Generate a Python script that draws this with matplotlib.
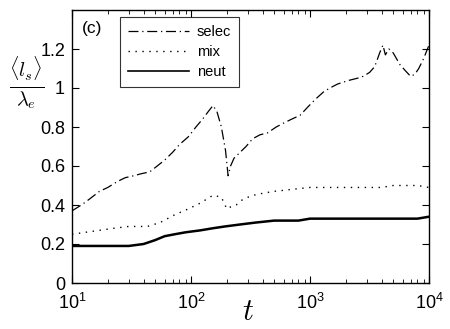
import matplotlib
matplotlib.use("Agg")
import matplotlib.pyplot as plt
from matplotlib.ticker import LogLocator, NullFormatter

plt.rcParams['font.family'] = ['Liberation Sans', 'DejaVu Sans']
plt.rcParams['mathtext.fontset'] = 'custom'
plt.rcParams['mathtext.rm'] = 'Liberation Sans'
plt.rcParams['mathtext.it'] = 'Liberation Sans:italic'

# --- data ---
t_selec = [10, 12, 14, 17, 20, 24, 28, 33, 38, 45, 52, 60, 70, 80, 95, 110, 125, 140, 153,
           165, 180, 195, 205, 215, 230, 258, 290, 330, 380, 440, 520, 600, 700, 825, 950,
           1100, 1300, 1470, 1700, 1900, 2150, 2500, 2800, 3170, 3500, 3850, 4100, 4300,
           4600, 5000, 5700, 6300, 7000, 7600, 8200, 9000, 10000]
v_selec = [0.37, 0.40, 0.43, 0.47, 0.49, 0.52, 0.54, 0.55, 0.56, 0.57, 0.60, 0.63, 0.67,
           0.71, 0.75, 0.80, 0.84, 0.88, 0.91, 0.88, 0.80, 0.68, 0.55, 0.60, 0.64, 0.67,
           0.70, 0.74, 0.76, 0.77, 0.80, 0.82, 0.84, 0.86, 0.90, 0.94, 0.98, 1.00, 1.02,
           1.03, 1.04, 1.05, 1.06, 1.08, 1.11, 1.18, 1.22, 1.17, 1.20, 1.18, 1.12, 1.09,
           1.06, 1.07, 1.10, 1.15, 1.22]

t_mix = [10, 13, 17, 22, 30, 43, 55, 73, 95, 120, 153, 180, 200, 215, 240, 258, 278, 302,
         335, 400, 500, 700, 1000, 1500, 2000, 3000, 4000, 5000, 6000, 8000, 10000]
v_mix = [0.25, 0.26, 0.27, 0.28, 0.29, 0.29, 0.31, 0.35, 0.38, 0.41, 0.45, 0.44, 0.38,
         0.39, 0.40, 0.42, 0.43, 0.44, 0.45, 0.46, 0.47, 0.48, 0.49, 0.49, 0.49, 0.49,
         0.49, 0.50, 0.50, 0.50, 0.49]

t_neut = [10, 15, 20, 30, 40, 50, 60, 73, 90, 120, 150, 193, 258, 350, 500, 800, 1000,
          1500, 2000, 3000, 4000, 5000, 6000, 8000, 10000]
v_neut = [0.19, 0.19, 0.19, 0.19, 0.20, 0.22, 0.24, 0.25, 0.26, 0.27, 0.28, 0.29, 0.30,
          0.31, 0.32, 0.32, 0.33, 0.33, 0.33, 0.33, 0.33, 0.33, 0.33, 0.33, 0.34]

labels = ['selec', 'mix', 'neut']
yticks = [0, 0.2, 0.4, 0.6, 0.8, 1, 1.2]
ytick_labels = ['0', '0.2', '0.4', '0.6', '0.8', '1', '1.2']
xticks = [10, 100, 1000, 10000]
xtick_labels = [r'$10^{1}$', r'$10^{2}$', r'$10^{3}$', r'$10^{4}$']

fig = plt.figure(figsize=(4.5, 3.29), dpi=100)
ax = fig.add_axes([72/450, 1 - 283/329, (429-72)/450, (283-10)/329])

ax.plot(t_selec, v_selec, color='black', lw=0.9, linestyle=(0, (8, 3, 1, 3)), label=labels[0])
ax.plot(t_mix, v_mix, color='black', lw=1.0, linestyle=(0, (1, 4)), label=labels[1])
ax.plot(t_neut, v_neut, color='black', lw=1.8, linestyle='-', label=labels[2])

ax.set_xscale('log')
ax.set_xlim(10, 10000)
ax.set_ylim(0, 1.4)
ax.set_xticks(xticks)
ax.set_xticklabels(xtick_labels)
ax.xaxis.set_minor_locator(LogLocator(base=10, subs=range(2, 10)))
ax.xaxis.set_minor_formatter(NullFormatter())
ax.set_yticks(yticks)
ax.set_yticklabels(ytick_labels)
ax.tick_params(which='both', direction='in', top=True, right=True, labelsize=13)
ax.tick_params(axis='x', which='major', pad=7)
ax.tick_params(axis='y', which='major', pad=5)
ax.tick_params(which='major', length=5, width=0.8)
ax.tick_params(which='minor', length=3, width=0.6)
for s in ax.spines.values():
    s.set_linewidth(1.0)

leg = ax.legend(loc='upper left', bbox_to_anchor=((120-72)/357, (283-17)/273), fontsize=10.5,
                frameon=True, fancybox=False, edgecolor='black', handlelength=4.2,
                handletextpad=0.5, borderpad=0.55, labelspacing=0.4, borderaxespad=0)
leg.get_frame().set_linewidth(0.8)
for h in leg.get_lines():
    h.set_linewidth(min(h.get_linewidth(), 1.2))

ax.text(82/450, 1 - 29/329, '(c)', transform=fig.transFigure, fontsize=12.5,
        va='center', ha='left')

fig.text(27/450, 1 - 83/329, r'$\frac{\langle l_s\rangle}{\lambda_e}$', fontsize=21,
         ha='center', va='center', math_fontfamily='cm')
fig.text(248/450, 1 - 312/329, r'$t$', fontsize=22, ha='center', va='center',
         math_fontfamily='cm')

fig.savefig('out.png', dpi=100)
